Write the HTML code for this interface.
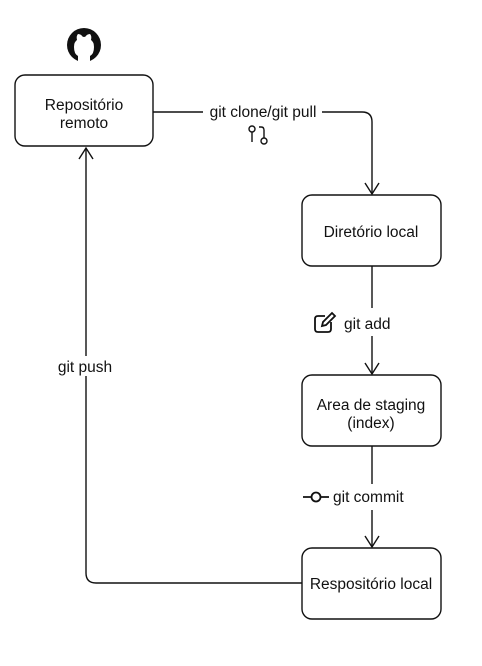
<!DOCTYPE html>
<html><head><meta charset="utf-8"><style>
body{margin:0;background:#fff;}
svg text{font-family:"Liberation Sans",sans-serif;font-size:15.5px;fill:#111;}
</style></head><body>
<svg width="482" height="661" viewBox="0 0 482 661" xmlns="http://www.w3.org/2000/svg">
<g fill="none" stroke="#111" stroke-width="1.4">
<rect x="15" y="75" width="138" height="71" rx="10"/>
<rect x="302" y="195" width="139" height="71" rx="10"/>
<rect x="302" y="375" width="139" height="71" rx="10"/>
<rect x="302" y="548" width="139" height="71" rx="10"/>
<path d="M153 112 H203 M322 112 H362 Q372 112 372 122 V194"/>
<path d="M365 183 L372 194 L379 183"/>
<path d="M372 266 V308 M372 336 V374"/>
<path d="M365 363 L372 374 L379 363"/>
<path d="M372 446 V484 M372 510 V547"/>
<path d="M365 536 L372 547 L379 536"/>
<path d="M302 583 H96 Q86 583 86 573 V148"/>
<path d="M79 159 L86 148 L93 159"/>
<circle cx="252" cy="129" r="3"/><path d="M252 132 V142"/>
<circle cx="264" cy="141" r="3"/><path d="M264 138 V130 Q264 127 261 127 H259"/>
<path d="M325 316 H318 Q315 316 315 319 V329 Q315 332 318 332 H328 Q331 332 331 329 V322" stroke-width="1.8"/>
<path d="M322 326 L323 322 L332 313 L335 316 L326 325 Z" stroke-width="1.8"/>
<path d="M303 497 H311 M321 497 H329" stroke-width="1.8"/><circle cx="316" cy="497" r="4.5" stroke-width="1.8"/>
</g>
<g transform="translate(84,45)">
<circle r="17" fill="#111"/>
<path d="M-6 18 V11 Q-10 9 -10 2 Q-10 -3 -7 -5 Q-8 -9 -6 -11 Q-3 -11 -1 -8 Q0 -8.5 1 -8 Q3 -11 6 -11 Q8 -9 7 -5 Q10 -3 10 2 Q10 9 6 11 V18 Z" fill="#fff"/>
</g>
<text x="84" y="110" text-anchor="middle">Repositório</text>
<text x="84" y="128" text-anchor="middle">remoto</text>
<text x="263" y="117" text-anchor="middle">git clone/git pull</text>
<text x="371" y="237" text-anchor="middle">Diretório local</text>
<text x="344" y="329">git add</text>
<text x="371" y="410" text-anchor="middle">Area de staging</text>
<text x="371" y="428" text-anchor="middle">(index)</text>
<text x="333" y="502">git commit</text>
<text x="371" y="589" text-anchor="middle">Respositório local</text>
<rect x="50" y="356" width="72" height="20" fill="#fff"/>
<text x="85" y="372" text-anchor="middle">git push</text>
</svg>
</body></html>
